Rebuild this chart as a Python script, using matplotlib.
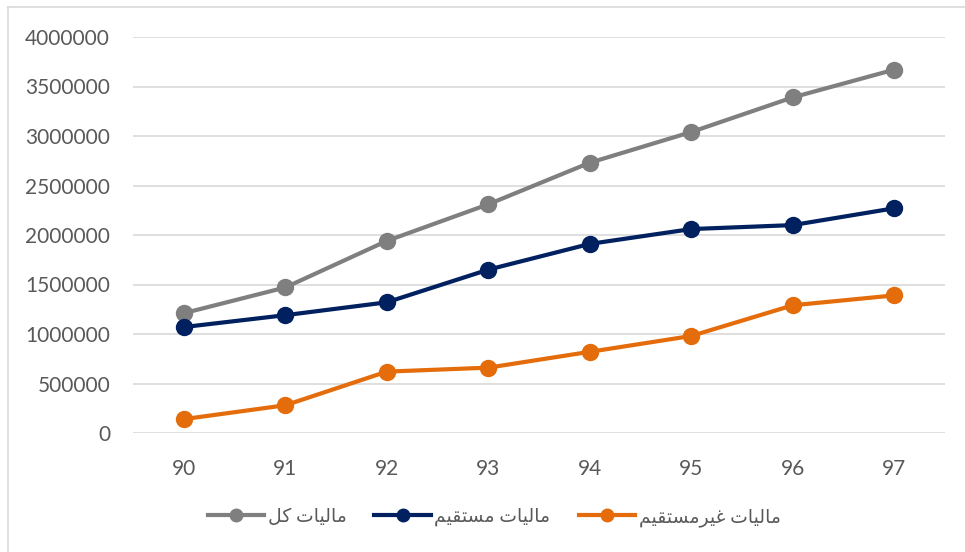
import matplotlib
matplotlib.use("Agg")
import matplotlib.pyplot as plt
from matplotlib.lines import Line2D

years = ["90", "91", "92", "93", "94", "95", "96", "97"]
total_tax = [1210000, 1470000, 1940000, 2310000, 2730000, 3040000, 3390000, 3670000]
direct_tax = [1070000, 1190000, 1320000, 1650000, 1910000, 2060000, 2100000, 2270000]
indirect_tax = [140000, 280000, 620000, 660000, 820000, 980000, 1290000, 1390000]
y_ticks = [0, 500000, 1000000, 1500000, 2000000, 2500000, 3000000, 3500000, 4000000]

labels = ["مالیات کل", "مالیات مستقیم", "مالیات غیرمستقیم"]
colors = ["#7F7F7F", "#002060", "#E46C0A"]

# minimal Persian shaping: isolated, final, initial, medial presentation forms
FORMS = {
    "م": ("\uFEE1", "\uFEE2", "\uFEE3", "\uFEE4"),
    "ل": ("\uFEDD", "\uFEDE", "\uFEDF", "\uFEE0"),
    "ی": ("\uFBFC", "\uFBFD", "\uFBFE", "\uFBFF"),
    "ت": ("\uFE95", "\uFE96", "\uFE97", "\uFE98"),
    "ک": ("\uFB8E", "\uFB8F", "\uFB90", "\uFB91"),
    "غ": ("\uFECD", "\uFECE", "\uFECF", "\uFED0"),
    "س": ("\uFEB1", "\uFEB2", "\uFEB3", "\uFEB4"),
    "ق": ("\uFED5", "\uFED6", "\uFED7", "\uFED8"),
    "ا": ("\uFE8D", "\uFE8E", None, None),
    "ر": ("\uFEAD", "\uFEAE", None, None),
}


def shape(text):
    out = []
    for i, ch in enumerate(text):
        if ch not in FORMS:
            out.append(ch)
            continue
        prev = text[i - 1] if i > 0 else ""
        nxt = text[i + 1] if i + 1 < len(text) else ""
        joins_prev = prev in FORMS and FORMS[prev][2] is not None
        can_next = FORMS[ch][2] is not None
        joins_next = can_next and nxt in FORMS
        f = FORMS[ch]
        if joins_prev and joins_next:
            out.append(f[3])
        elif joins_prev:
            out.append(f[1])
        elif joins_next:
            out.append(f[2])
        else:
            out.append(f[0])
    return "".join(out)[::-1]


plt.rcParams["font.family"] = ["Lato", "DejaVu Sans"]

fig = plt.figure(figsize=(9.65, 5.52), dpi=100)
ax = fig.add_axes([133 / 965, 1 - 433 / 552, (945 - 133) / 965, (433 - 37) / 552])

x = list(range(len(years)))
for vals, lab, col in zip([total_tax, direct_tax, indirect_tax], labels, colors):
    ax.plot(x, vals, color=col, linewidth=3, marker="o", markersize=11.5,
            label=shape(lab), solid_capstyle="round")

ax.set_xlim(-0.5, len(years) - 0.5)
ax.set_ylim(0, 4000000)
ax.set_yticks(y_ticks)
ax.set_yticklabels([str(v) for v in y_ticks])
ax.set_xticks(x)
ax.set_xticklabels(years)
ax.tick_params(axis="both", length=0, labelsize=15, labelcolor="#595959")
ax.tick_params(axis="y", pad=16.5)
ax.tick_params(axis="x", pad=19)
ax.grid(axis="y", color="#D9D9D9", linewidth=1.2)
ax.set_axisbelow(True)
for s in ax.spines.values():
    s.set_visible(False)

handles = [Line2D([], [], color=c, linewidth=3, marker="o", markersize=9)
           for c in colors]
fig.legend(handles, [shape(l) for l in labels], loc="center",
           bbox_to_anchor=(494 / 965, 1 - 517 / 552),
           ncol=3, frameon=False, fontsize=13.5, handlelength=3.0,
           columnspacing=1.5, handletextpad=0.2, labelcolor="#595959")

# outer chart frame (top and left edges visible)
fig.add_artist(Line2D([8 / 965, 1], [1 - 7 / 552, 1 - 7 / 552], color="#D9D9D9",
                      linewidth=1.2, transform=fig.transFigure))
fig.add_artist(Line2D([8 / 965, 8 / 965], [0, 1 - 7 / 552], color="#D9D9D9",
                      linewidth=1.2, transform=fig.transFigure))

fig.savefig("out.png", dpi=100)
